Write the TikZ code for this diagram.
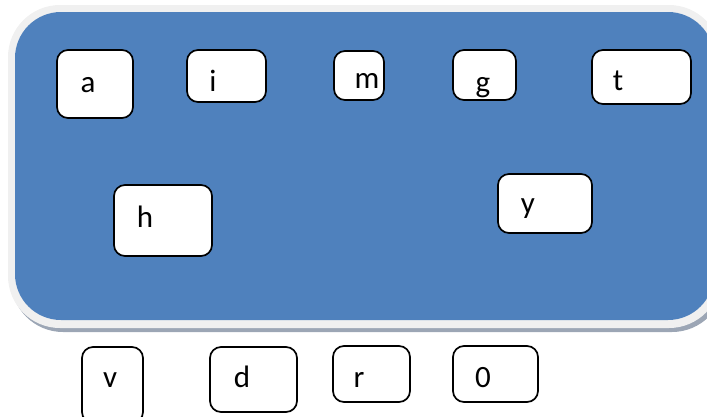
\documentclass[tikz,border=0pt]{standalone}
\usepackage{fontspec}
\setmainfont{Carlito}
\usetikzlibrary{positioning}
\definecolor{panelblue}{HTML}{4F81BD}
\definecolor{panelrim}{HTML}{F0F0F0}
\definecolor{panelshade}{HTML}{9CA6B5}
\tikzset{
  card/.style={draw, line width=1.7pt, fill=white, rounded corners=11pt, inner sep=0pt},
  glyph/.style={anchor=base, inner sep=0pt, font=\fontsize{31}{34}\selectfont}
}
\begin{document}
\begin{tikzpicture}[x=1pt, y=-1pt]
	\useasboundingbox (0,0) rectangle (707,416);
	\fill[panelshade, rounded corners=52pt] (11,9) rectangle (724,332);
	\fill[panelrim, rounded corners=52pt] (8,5) rectangle (721,328);
	\fill[panelblue, rounded corners=46pt] (15,12) rectangle (714,320);
	\node[card, minimum width=76pt, minimum height=68pt] (a) at (95,84) {};
	\node[card, minimum width=79pt, minimum height=52pt] (i) at (226.5,76) {};
	\node[card, minimum width=50pt, minimum height=49pt] (m) at (359,75.5) {};
	\node[card, minimum width=63pt, minimum height=50pt] (g) at (484.5,75) {};
	\node[card, minimum width=99pt, minimum height=54pt] (t) at (641.5,77) {};
	\node[card, minimum width=98pt, minimum height=71pt] (h) at (163,220.5) {};
	\node[card, minimum width=94pt, minimum height=59pt] (y) at (545,203.5) {};
	\node[card, minimum width=61pt, minimum height=76pt] (v) at (112.5,385) {};
	\node[card, minimum width=87pt, minimum height=65pt] (d) at (253.5,379.5) {};
	\node[card, minimum width=77pt, minimum height=56pt] (r) at (371.5,374) {};
	\node[card, minimum width=85pt, minimum height=56pt] (zero) at (495.5,374) {};
	\node[glyph] (a-txt) at (88,92) {a};
	\node[glyph] (i-txt) at (213,91) {i};
	\node[glyph] (m-txt) at (367,88) {m};
	\node[glyph] (g-txt) at (483,92) {g};
	\node[glyph] (t-txt) at (618,90) {t};
	\node[glyph] (h-txt) at (145,227) {h};
	\node[glyph] (y-txt) at (528,213) {y};
	\node[glyph] (v-txt) at (110,387) {v};
	\node[glyph] (d-txt) at (242,387) {d};
	\node[glyph] (r-txt) at (359,387) {r};
	\node[glyph] (zero-txt) at (483,387) {0};
\end{tikzpicture}
\end{document}
